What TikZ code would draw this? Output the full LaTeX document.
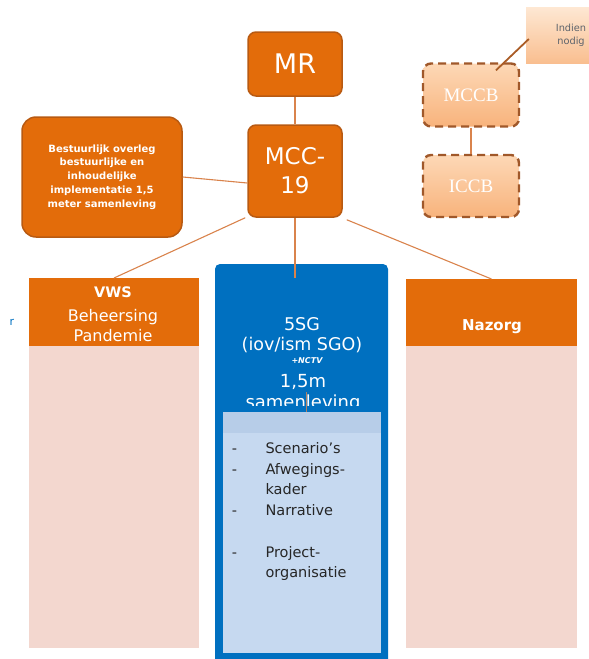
\documentclass[tikz,border=0pt]{standalone}
\usepackage{fontspec}
\setmainfont{DejaVu Sans}
\newfontfamily\serifmc{Liberation Serif}
\usetikzlibrary{calc}
\definecolor{org}{HTML}{E36C0A}
\definecolor{orgdark}{HTML}{B85A12}
\definecolor{pinkbody}{HTML}{F3D7CF}
\definecolor{bluebox}{HTML}{0070C0}
\definecolor{lblue}{HTML}{C6D9F0}
\definecolor{lbluestrip}{HTML}{B7CDE8}
\definecolor{lineorg}{HTML}{D9834C}
\definecolor{peachtop}{HTML}{FDD8B6}
\definecolor{peachbot}{HTML}{F8B37C}
\definecolor{dashbrown}{HTML}{A0582A}
\definecolor{slatetext}{HTML}{5E646C}
\tikzset{
  orgbox/.style={draw=orgdark, line width=1.5pt, fill=org, rounded corners=8pt, text=white, align=center, inner sep=0pt},
  peachbox/.style={draw=dashbrown, line width=2.4pt, dash pattern=on 8pt off 5pt, top color=peachtop, bottom color=peachbot, rounded corners=8pt, text=white, inner sep=0pt, font=\serifmc\fontsize{19}{21}\selectfont},
  header/.style={fill=org, draw=none, text=white, align=center, inner sep=0pt},
  conn/.style={draw=lineorg, line width=1.1pt},
}
\begin{document}
\begin{tikzpicture}[x=1pt,y=-1pt]
\useasboundingbox (0,0) rectangle (589,659);
\begin{scope}
\clip (0,0) rectangle (589,659);
% top nodes
\node[orgbox, minimum width=94pt, minimum height=64pt, font=\fontsize{27}{30}\selectfont] (mr) at (295,64) {MR};
\node[orgbox, minimum width=94pt, minimum height=92pt, font=\fontsize{23}{29}\selectfont] (mcc) at (295,171) {MCC-\\19};
\node[orgbox, rounded corners=14pt, minimum width=160pt, minimum height=120pt, font=\bfseries\fontsize{10}{13.8}\selectfont] (best) at (102,177) {Bestuurlijk overleg\\bestuurlijke en\\inhoudelijke\\implementatie 1,5\\meter samenleving};
% right side
\node[top color=peachtop!60!white, bottom color=peachbot!85!white, draw=none, minimum width=74pt, minimum height=56pt, inner sep=0pt] (indien) at (563,35) {};
\node[text=slatetext, align=center, font=\fontsize{9.8}{13}\selectfont] at (571,35) {Indien\\nodig};
\node[peachbox, minimum width=96pt, minimum height=63pt] (mccb) at (471,95) {MCCB};
\node[peachbox, minimum width=96pt, minimum height=62pt] (iccb) at (471,186) {ICCB};
% columns
\fill[pinkbody] (29,346) rectangle (199,648);
\node[header, minimum width=170pt, minimum height=68pt, anchor=north] (vws) at (114,278) {};
\node[text=white, font=\bfseries\fontsize{14.5}{16}\selectfont] at (113,292) {VWS};
\node[text=white, align=center, font=\fontsize{16}{20}\selectfont] at (113,326) {Beheersing\\Pandemie};
\fill[pinkbody] (406,346) rectangle (577,648);
\node[header, minimum width=171pt, minimum height=67pt, anchor=north] (naz) at (491.5,279) {};
\node[text=white, font=\bfseries\fontsize{15}{17}\selectfont] at (492,327) {Nazorg};
% blue column
\path[fill=bluebox, rounded corners=5pt] (215,670) -- (215,264) -- (388,264) -- (388,670) -- cycle;
\coordinate (bluein) at (295,278);
\node[text=white, align=center, font=\fontsize{17.5}{20}\selectfont] (sg) at (302,335) {5SG\\(iov/ism SGO)};
\node[text=white, font=\bfseries\itshape\fontsize{8}{9}\selectfont] at (307,361) {+NCTV};
\begin{scope}
\clip (215,300) rectangle (388,405);
\node[text=white, align=center, font=\fontsize{18}{21}\selectfont, anchor=north] at (303,371) {1,5m\\samenleving};
\end{scope}
\fill[lblue] (223,412) rectangle (381,653);
\fill[lbluestrip] (223,412) rectangle (381,433);
\draw[lineorg!50!gray, line width=0.8pt] (306,392) -- (306,412);
% list
\node[anchor=north west, align=left, font=\fontsize{14.5}{20.7}\selectfont, text=black!85] (list) at (226,439)
 {\makebox[36pt][l]{\,-}Scenario’s\\
  \makebox[36pt][l]{\,-}Afwegings-\\
  \makebox[36pt][l]{}kader\\
  \makebox[36pt][l]{\,-}Narrative\\
  \strut\\
  \makebox[36pt][l]{\,-}Project-\\
  \makebox[36pt][l]{}organisatie};
\node[text=bluebox, font=\fontsize{11}{12}\selectfont] at (12,322) {r};
% connectors
\draw[conn] (mr.south) -- (mcc.north);
\draw[conn] (best.east) -- ([yshift=-12pt]mcc.west);
\draw[conn] ([xshift=-2pt]mcc.south west) -- (vws.north);
\draw[conn] (mcc.south) -- (bluein);
\draw[conn] ([xshift=4pt,yshift=-2pt]mcc.south east) -- (naz.north);
\draw[conn] (mccb.south) -- (iccb.north);
\draw[draw=dashbrown!90!orange, line width=1.8pt] ([yshift=-4pt,xshift=3pt]indien.west) -- ($(mccb.north)+(25,8)$);
\end{scope}
\end{tikzpicture}
\end{document}
